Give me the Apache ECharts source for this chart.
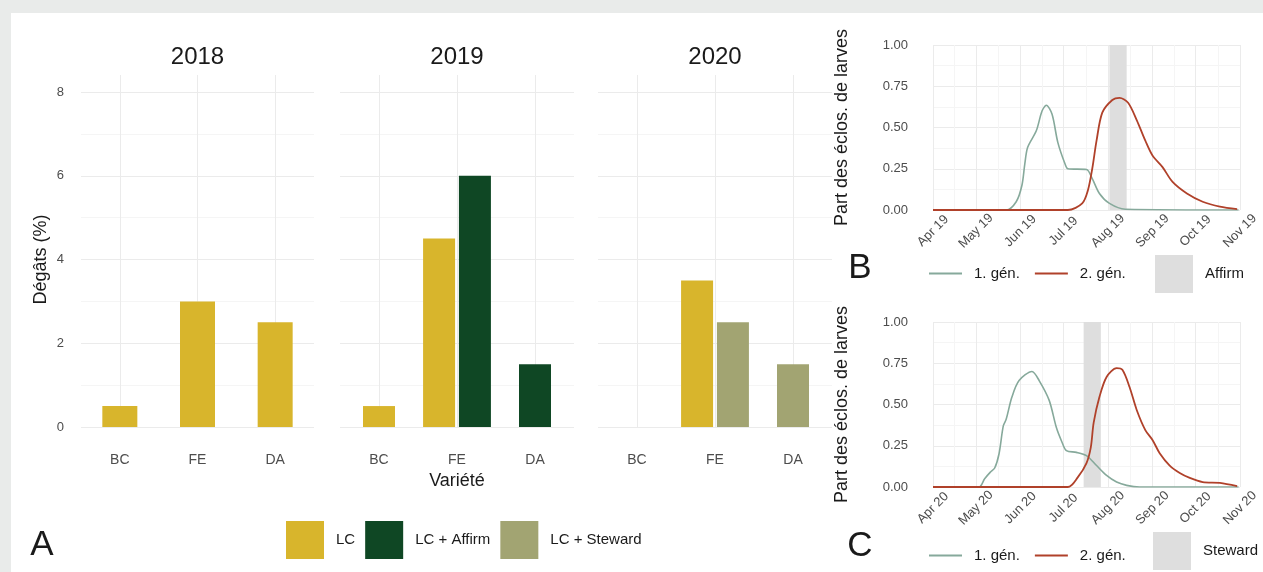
<!DOCTYPE html>
<html>
<head>
<meta charset="utf-8">
<script src="https://cdn.jsdelivr.net/npm/echarts@6/dist/echarts.min.js"></script>
<style>
body { margin: 0; background: #e9ebea; }
#fond { position: absolute; left: 11px; top: 13px; width: 1252px; height: 559px; background: #fff; }
#myChart { position: absolute; left: 0; top: 0; width: 1263px; height: 572px; }
</style>
</head>
<body>
<div id="fond"></div>
<div id="myChart"></div>
<script>
// panneau A : dégâts par variété
const annees = ['2018', '2019', '2020']
const varietes = ['BC', 'FE', 'DA']
const traitements = ['LC', 'LC + Affirm', 'LC + Steward']
const degatsLC = [[0.5, 3, 2.5], [0.5, 4.5, null], [null, 3.5, null]]
const degatsAffirm = [[null, null, null], [null, 6, 1.5], [null, null, null]]
const degatsSteward = [[null, null, null], [null, null, null], [null, 2.5, 1.5]]
const ticksDegats = [0, 2, 4, 6, 8]

// panneaux B et C : part des éclosions de larves
const gen1_2019 = [['2019-04-01', 0], ['2019-05-22', 0], ['2019-05-29', 0.05], ['2019-06-02', 0.15], ['2019-06-04', 0.28], ['2019-06-06', 0.38], ['2019-06-12', 0.48], ['2019-06-16', 0.6], ['2019-06-19', 0.635], ['2019-06-23', 0.58], ['2019-06-27', 0.41], ['2019-07-02', 0.28], ['2019-07-04', 0.25], ['2019-07-17', 0.245], ['2019-07-21', 0.19], ['2019-07-26', 0.1], ['2019-08-02', 0.04], ['2019-08-13', 0.005], ['2019-10-31', 0]]
const gen2_2019 = [['2019-04-01', 0], ['2019-07-04', 0], ['2019-07-14', 0.04], ['2019-07-18', 0.12], ['2019-07-21', 0.25], ['2019-07-24', 0.42], ['2019-07-28', 0.59], ['2019-08-04', 0.667], ['2019-08-09', 0.68], ['2019-08-15', 0.65], ['2019-08-21', 0.545], ['2019-08-27', 0.42], ['2019-09-01', 0.33], ['2019-09-08', 0.26], ['2019-09-15', 0.17], ['2019-09-25', 0.1], ['2019-10-06', 0.05], ['2019-10-18', 0.02], ['2019-10-30', 0.005]]
const gen1_2020 = [['2020-04-01', 0], ['2020-05-03', 0], ['2020-05-07', 0.05], ['2020-05-11', 0.09], ['2020-05-14', 0.115], ['2020-05-17', 0.2], ['2020-05-20', 0.37], ['2020-05-22', 0.41], ['2020-05-26', 0.545], ['2020-05-31', 0.645], ['2020-06-09', 0.7], ['2020-06-14', 0.645], ['2020-06-21', 0.525], ['2020-06-26', 0.36], ['2020-06-30', 0.27], ['2020-07-03', 0.22], ['2020-07-10', 0.21], ['2020-07-17', 0.19], ['2020-07-24', 0.13], ['2020-07-31', 0.07], ['2020-08-07', 0.03], ['2020-08-14', 0.01], ['2020-08-23', 0], ['2020-10-31', 0]]
const gen2_2020 = [['2020-04-01', 0], ['2020-07-04', 0], ['2020-07-11', 0.06], ['2020-07-17', 0.145], ['2020-07-20', 0.24], ['2020-07-22', 0.39], ['2020-07-26', 0.545], ['2020-07-31', 0.667], ['2020-08-07', 0.72], ['2020-08-11', 0.71], ['2020-08-16', 0.606], ['2020-08-21', 0.467], ['2020-08-27', 0.345], ['2020-09-01', 0.285], ['2020-09-06', 0.205], ['2020-09-13', 0.13], ['2020-09-20', 0.085], ['2020-09-27', 0.055], ['2020-10-06', 0.03], ['2020-10-18', 0.025], ['2020-10-30', 0.005]]
const periodeAffirm = ['2019-08-02', '2019-08-14']
const periodeSteward = ['2020-07-15', '2020-07-27']
const ticksPart = [0, 0.25, 0.5, 0.75, 1]
const moisCourts = ['Jan', 'Feb', 'Mar', 'Apr', 'May', 'Jun', 'Jul', 'Aug', 'Sep', 'Oct', 'Nov', 'Dec']

const police = 'Liberation Sans, Arial, sans-serif'
const gris = '#4d4d4d'
const noir = '#1a1a1a'
const couleurs = ['#d8b52c', '#0f4724', '#a2a472']
const coulGen1 = '#86a99b'
const coulGen2 = '#b0412a'
const coulBande = '#dedede'

let myChart = echarts.init(document.getElementById('myChart'))

const facettes = [
  {left: 81, width: 233, bar: 35},
  {left: 340, width: 234, bar: 32},
  {left: 598, width: 234, bar: 32}
]
const valeurs = [degatsLC, degatsAffirm, degatsSteward]

let grids = []
let xAxes = []
let yAxes = []
let series = []
let graphics = []

function texte (x, y, t, taille) {
  return {
    type: 'text', x: x, y: y,
    style: {text: t, font: taille + 'px ' + police, fill: noir, textAlign: 'center', textVerticalAlign: 'middle'}
  }
}

facettes.forEach((f, i) => {
  grids.push({left: f.left, top: 92, width: f.width, height: 335})
  yAxes.push({
    type: 'value', gridIndex: i, min: ticksDegats[0], max: ticksDegats[ticksDegats.length - 1], interval: 2,
    name: i === 0 ? 'Dégâts (%)' : '', nameLocation: 'middle', nameRotate: 90, nameGap: 31,
    nameTextStyle: {fontSize: 18, color: noir, fontFamily: police},
    axisLine: {show: false}, axisTick: {show: false},
    axisLabel: {show: i === 0, color: gris, fontSize: 13, fontFamily: police, margin: 17},
    splitLine: {lineStyle: {color: '#ebebeb', width: 1}},
    minorTick: {show: false, splitNumber: 2},
    minorSplitLine: {show: true, lineStyle: {color: '#f5f5f5', width: 1}}
  })
  // axe visible : barres seules, centrées
  xAxes.push({
    type: 'category', gridIndex: i, data: varietes,
    axisLine: {show: false},
    axisTick: {show: true, alignWithLabel: true, inside: true, length: 352, lineStyle: {color: '#ebebeb'}},
    axisLabel: {color: gris, fontSize: 14, fontFamily: police, margin: 26},
    splitLine: {show: false}
  })
  // axe caché : barres côte à côte
  xAxes.push({type: 'category', gridIndex: i, data: varietes, show: false})

  traitements.forEach((t, k) => {
    let seul = []
    let paire = []
    varietes.forEach((v, c) => {
      let n = valeurs.filter(a => a[i][c] !== null).length
      let val = valeurs[k][i][c]
      seul.push(n < 2 ? val : null)
      paire.push(n >= 2 ? val : null)
    })
    if (seul.some(v => v !== null)) {
      series.push({
        name: t, type: 'bar', xAxisIndex: 2 * i, yAxisIndex: i, data: seul,
        barWidth: f.bar, barGap: '-100%', itemStyle: {color: couleurs[k]}
      })
    }
    if (paire.some(v => v !== null)) {
      series.push({
        name: t, type: 'bar', xAxisIndex: 2 * i + 1, yAxisIndex: i, data: paire,
        barWidth: f.bar, barGap: '12%', itemStyle: {color: couleurs[k]}
      })
    }
  })

  graphics.push(texte(f.left + f.width / 2, 57, annees[i], 24))
})

graphics.push(texte(457, 481, 'Variété', 18))
graphics.push(texte(42, 545, 'A', 35))
graphics.push(texte(860, 268, 'B', 35))
graphics.push(texte(860, 546, 'C', 35))

// panneaux de droite
const panneaux = [
  {top: 45, an: '2019', g1: gen1_2019, g2: gen2_2019, nom: 'Affirm', periode: periodeAffirm},
  {top: 322, an: '2020', g1: gen1_2020, g2: gen2_2020, nom: 'Steward', periode: periodeSteward}
]
panneaux.forEach((p, j) => {
  let gi = 3 + j
  grids.push({left: 933, top: p.top, width: 307, height: 165})
  xAxes.push({
    type: 'time', gridIndex: gi, min: p.an + '-04-01', max: p.an + '-11-01', splitNumber: 7,
    axisLine: {show: false}, axisTick: {show: false},
    axisLabel: {
      rotate: 45, align: 'center', verticalAlign: 'middle', showMaxLabel: true, showMinLabel: true,
      color: gris, fontSize: 13, fontFamily: police, margin: 21, hideOverlap: false,
      formatter: v => {
        let d = new Date(v)
        return moisCourts[d.getMonth()] + ' ' + String(d.getFullYear()).slice(2)
      }
    },
    splitLine: {show: true, lineStyle: {color: '#ebebeb'}},
    minorTick: {show: false, splitNumber: 2},
    minorSplitLine: {show: true, lineStyle: {color: '#f5f5f5'}}
  })
  yAxes.push({
    type: 'value', gridIndex: gi, min: ticksPart[0], max: ticksPart[ticksPart.length - 1], interval: 0.25,
    name: 'Part des éclos. de larves', nameLocation: 'middle', nameRotate: 90, nameGap: 82,
    nameTextStyle: {fontSize: 18, color: noir, fontFamily: police},
    axisLine: {show: false}, axisTick: {show: false},
    axisLabel: {color: gris, fontSize: 13, fontFamily: police, margin: 25, formatter: v => v.toFixed(2)},
    splitLine: {lineStyle: {color: '#ebebeb'}},
    minorTick: {show: false, splitNumber: 2},
    minorSplitLine: {show: true, lineStyle: {color: '#f5f5f5'}}
  })
  let xi = 6 + j
  series.push({
    name: p.nom, type: 'line', xAxisIndex: xi, yAxisIndex: gi, data: [], symbol: 'none',
    markArea: {silent: true, itemStyle: {color: coulBande},
      data: [[{xAxis: p.periode[0], yAxis: 0}, {xAxis: p.periode[1], yAxis: 1}]]}
  })
  series.push({
    name: '1. gén.', type: 'line', xAxisIndex: xi, yAxisIndex: gi, data: p.g1, symbol: 'none',
    smooth: 0.3, lineStyle: {color: coulGen1, width: 1.6}, itemStyle: {color: coulGen1}
  })
  series.push({
    name: '2. gén.', type: 'line', xAxisIndex: xi, yAxisIndex: gi, data: p.g2, symbol: 'none',
    smooth: 0.3, lineStyle: {color: coulGen2, width: 1.8}, itemStyle: {color: coulGen2}
  })
})

const texteLegende = {fontSize: 15, color: noir, fontFamily: police, padding: [0, 0, 0, 7]}
const legendeLignes = {data: ['1. gén.', '2. gén.'], left: 929, padding: 0, icon: 'rect', itemWidth: 33, itemHeight: 2, itemGap: 15, selectedMode: false, textStyle: texteLegende}
myChart.setOption({
  animation: false,
  textStyle: {fontFamily: police},
  grid: grids,
  xAxis: xAxes,
  yAxis: yAxes,
  series: series,
  graphic: graphics,
  legend: [
    {data: traitements, left: 286, top: 521, padding: 0, icon: 'rect', itemWidth: 38, itemHeight: 38, itemGap: 10, selectedMode: false, textStyle: texteLegende},
    Object.assign({top: 266}, legendeLignes),
    {data: [{name: 'Affirm', icon: 'rect', itemStyle: {color: coulBande}}], left: 1155, top: 255, padding: 0, itemWidth: 38, itemHeight: 38, selectedMode: false, textStyle: texteLegende},
    Object.assign({top: 548}, legendeLignes),
    {data: [{name: 'Steward', icon: 'rect', itemStyle: {color: coulBande}}], left: 1153, top: 532, padding: 0, itemWidth: 38, itemHeight: 38, selectedMode: false, textStyle: texteLegende}
  ]
})
</script>
</body>
</html>
